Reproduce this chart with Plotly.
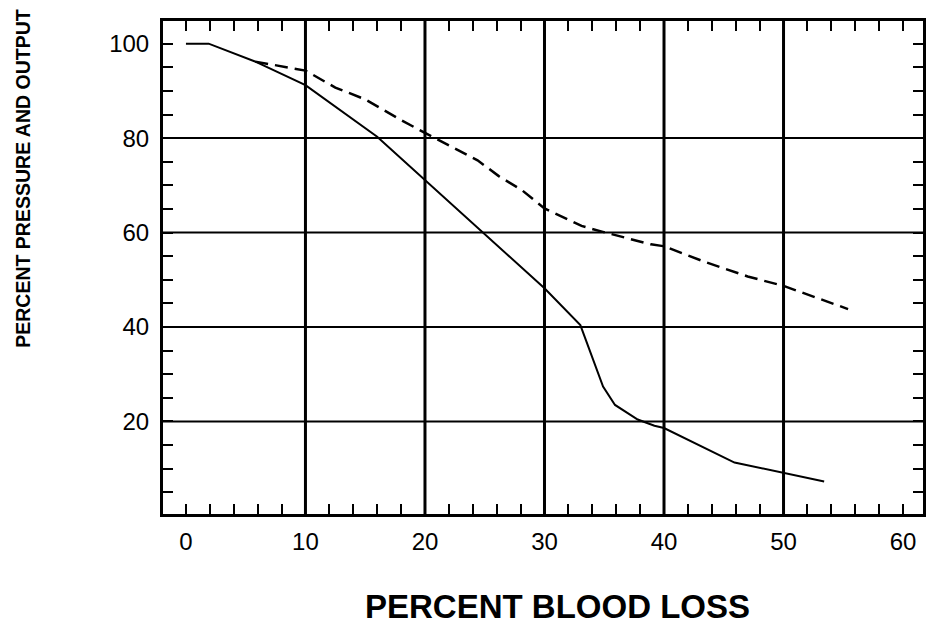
import plotly.graph_objects as go

# ---- data ----
solid_x = [0, 1.9, 5.9, 7.6, 10, 16.0, 20, 24.8, 30, 33.0, 34.9, 35.9, 37.8, 39.2, 40, 45.9, 50, 53.4]
solid_y = [100, 100, 96.1, 94.0, 91.2, 80.3, 71.1, 60.2, 48.2, 40.4, 27.4, 23.5, 20.4, 19.1, 18.6, 11.3, 9.2, 7.3]

dash_x = [5.8, 7.1, 10, 12.5, 15, 17.8, 20, 24.4, 26.2, 28.1, 30, 33.1, 34.8, 38.9, 40, 43.4, 47, 50, 55.4]
dash_y = [96.2, 95.6, 94.3, 90.7, 88.2, 84.1, 81.1, 75.3, 71.9, 69.0, 65.1, 61.4, 60.2, 57.5, 57.1, 53.8, 50.7, 48.7, 43.8]

x_ticks = list(range(0, 62, 2))
x_labels = [str(v) if v % 10 == 0 else "" for v in x_ticks]
y_ticks = list(range(5, 105, 5))
y_labels = [str(v) if v % 20 == 0 else "" for v in y_ticks]
grid_x = [10, 20, 30, 40, 50]
grid_y = [20, 40, 60, 80]

x_title = "PERCENT BLOOD LOSS"
y_title = "PERCENT PRESSURE AND OUTPUT"

FONT = "Liberation Sans, Arial, sans-serif"

fig = go.Figure()
fig.add_trace(go.Scatter(x=solid_x, y=solid_y, mode="lines",
                         line=dict(color="black", width=2), showlegend=False))
fig.add_trace(go.Scatter(x=dash_x, y=dash_y, mode="lines",
                         line=dict(color="black", width=2.5, dash="13px,7px"), showlegend=False))

shapes = []
for gx in grid_x:
    shapes.append(dict(type="line", xref="x", yref="paper", x0=gx, x1=gx, y0=0, y1=1,
                       line=dict(color="black", width=3), layer="below"))
for gy in grid_y:
    shapes.append(dict(type="line", xref="paper", yref="y", x0=0, x1=1, y0=gy, y1=gy,
                       line=dict(color="black", width=2), layer="below"))

fig.update_layout(
    width=929, height=628,
    margin=dict(l=163, r=3, t=20.5, b=113.5),
    paper_bgcolor="white", plot_bgcolor="white",
    font=dict(family=FONT, color="black"),
    shapes=shapes,
    xaxis=dict(range=[-1.92, 61.67], tickmode="array", tickvals=x_ticks, ticktext=x_labels,
               ticks="inside", ticklen=10, tickwidth=2, tickcolor="black",
               showline=True, linewidth=3, linecolor="black", mirror="allticks",
               showgrid=False, zeroline=False, ticklabelstandoff=4,
               tickfont=dict(size=24, family=FONT, color="black")),
    yaxis=dict(range=[0.4, 104.8], tickmode="array", tickvals=y_ticks, ticktext=y_labels,
               ticks="inside", ticklen=10, tickwidth=2, tickcolor="black",
               showline=True, linewidth=3, linecolor="black", mirror="allticks",
               showgrid=False, zeroline=False, ticklabelstandoff=6,
               tickfont=dict(size=24, family=FONT, color="black")),
    annotations=[
        dict(text="<b>" + x_title + "</b>", xref="paper", yref="paper",
             x=(559.5 - 163) / 763, y=(514.5 - 607) / 494, xanchor="center", yanchor="middle",
             showarrow=False, font=dict(size=33, family=FONT, color="black")),
        dict(text="<b>" + y_title + "</b>", xref="paper", yref="paper",
             x=(23 - 163) / 763, y=(514.5 - 179) / 494, xanchor="center", yanchor="middle",
             showarrow=False, textangle=-90, font=dict(size=19.5, family=FONT, color="black")),
    ],
)

fig.write_html("out.html")
